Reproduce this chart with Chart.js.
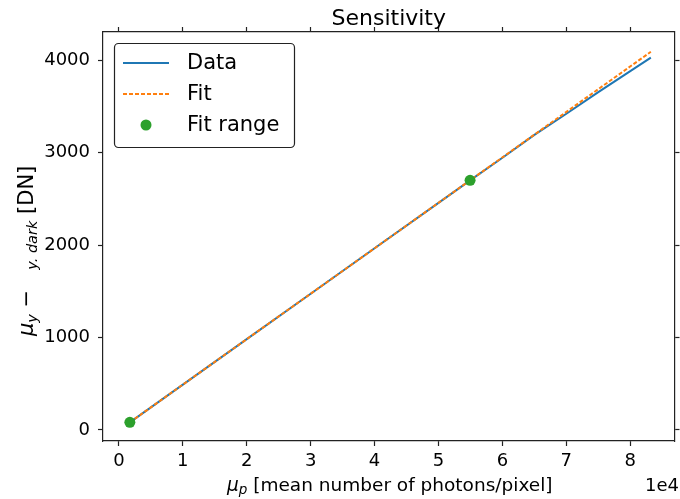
<!DOCTYPE html>
<html>
<head>
<meta charset="utf-8">
<script src="https://cdn.jsdelivr.net/npm/chart.js@4.4.1/dist/chart.umd.min.js"></script>
<style>
  body { margin: 0; background: #fff; }
  canvas { display: block; }
</style>
</head>
<body>
<canvas id="myChart" width="680" height="499"></canvas>
<script>
// photons/pixel vs. dark-corrected signal [DN]
const dataX = [1710, 10000, 20000, 30000, 40000, 50000, 54940, 60000, 65000, 70000, 75000, 80000, 83220]
const dataY = [83, 490, 982, 1473, 1965, 2456, 2699, 2943, 3190, 3419, 3653, 3880, 4025]
const fitX = [1710, 83220]
const fitY = [83, 4089]
const rangeX = [1710, 54940]
const rangeY = [83, 2699]
const xTicks = [0, 10000, 20000, 30000, 40000, 50000, 60000, 70000, 80000]
const yTicks = [0, 1000, 2000, 3000, 4000]

const FONT = 'DejaVu Sans'
const toPoints = (xs, ys) => xs.map((x, i) => ({ x: x, y: ys[i] }))

// title, axis labels, offset text and legend drawn by hand (matplotlib look)
const decorations = {
  id: 'decorations',
  afterDraw (chart) {
    const ctx = chart.ctx
    const area = chart.chartArea
    ctx.save()
    ctx.fillStyle = '#000'
    ctx.textBaseline = 'alphabetic'

    ctx.font = `22px "${FONT}"`
    ctx.textAlign = 'center'
    ctx.fillText('Sensitivity', (area.left + area.right) / 2, 25)

    // x label
    ctx.textAlign = 'left'
    let x = 227
    const xParts = [
      { t: 'μ', f: `italic 18.5px "${FONT}"`, dy: 0 },
      { t: 'p', f: `italic 13.5px "${FONT}"`, dy: 3 },
      { t: ' [mean number of photons/pixel]', f: `18.5px "${FONT}"`, dy: 0 }
    ]
    xParts.forEach(p => {
      ctx.font = p.f
      ctx.fillText(p.t, x, 491 + p.dy)
      x += ctx.measureText(p.t).width
    })

    ctx.font = `18px "${FONT}"`
    ctx.textAlign = 'right'
    ctx.fillText('1e4', 679, 491)

    // y label, rotated
    ctx.save()
    ctx.translate(33, 336)
    ctx.rotate(-Math.PI / 2)
    ctx.textAlign = 'left'
    let y = 0
    const yParts = [
      { t: 'μ', f: `italic 21px "${FONT}"`, dy: 0 },
      { t: 'y', f: `italic 14.5px "${FONT}"`, dy: 4 },
      { t: ' − ', f: `21px "${FONT}"`, dy: 0 },
      { t: '  ', f: `21px "${FONT}"`, dy: 0 },
      { t: 'y. dark', f: `italic 14.5px "${FONT}"`, dy: 4 },
      { t: ' [DN]', f: `21px "${FONT}"`, dy: 0 }
    ]
    yParts.forEach(p => {
      ctx.font = p.f
      ctx.fillText(p.t, y, p.dy)
      y += ctx.measureText(p.t).width
    })
    ctx.restore()

    // legend
    const lx = 114.5
    const ly = 43.5
    ctx.beginPath()
    ctx.roundRect(lx, ly, 180, 104, 4)
    ctx.fillStyle = 'rgba(255,255,255,0.8)'
    ctx.fill()
    ctx.strokeStyle = '#222'
    ctx.lineWidth = 1.2
    ctx.stroke()
    const rows = [63, 94, 125]
    chart.data.datasets.forEach((ds, i) => {
      const ry = rows[i]
      if (ds.showLine !== false) {
        ctx.beginPath()
        ctx.setLineDash(ds.borderDash || [])
        ctx.strokeStyle = ds.borderColor
        ctx.lineWidth = ds.borderWidth
        ctx.moveTo(123, ry)
        ctx.lineTo(169, ry)
        ctx.stroke()
        ctx.setLineDash([])
      } else {
        ctx.beginPath()
        ctx.fillStyle = ds.backgroundColor
        ctx.arc(146, ry, ds.pointRadius, 0, Math.PI * 2)
        ctx.fill()
      }
      ctx.fillStyle = '#000'
      ctx.font = `21px "${FONT}"`
      ctx.textAlign = 'left'
      ctx.textBaseline = 'middle'
      ctx.fillText(ds.label, 187, ry + 1)
    })
    ctx.restore()
  }
}

const axisBorder = { display: true, color: '#222', width: 1.2 }
const tickGrid = { drawOnChartArea: false, drawTicks: true, tickLength: 5, tickColor: '#222', tickWidth: 1.2 }

const ctx = document.getElementById('myChart')
const myChart = new Chart(ctx, {
  type: 'scatter',
  data: {
    datasets: [{
      label: 'Data',
      data: toPoints(dataX, dataY),
      showLine: true,
      borderColor: '#1f77b4',
      backgroundColor: '#1f77b4',
      borderWidth: 2,
      pointRadius: 0,
      order: 3
    }, {
      label: 'Fit',
      data: toPoints(fitX, fitY),
      showLine: true,
      borderColor: '#ff7f0e',
      backgroundColor: '#ff7f0e',
      borderWidth: 2,
      borderDash: [4, 2],
      pointRadius: 0,
      order: 2
    }, {
      label: 'Fit range',
      data: toPoints(rangeX, rangeY),
      showLine: false,
      borderColor: '#2ca02c',
      backgroundColor: '#2ca02c',
      pointRadius: 5.5,
      pointBorderWidth: 0,
      order: 1
    }]
  },
  options: {
    responsive: false,
    animation: false,
    layout: { padding: 0 },
    plugins: {
      legend: { display: false },
      tooltip: { enabled: false }
    },
    scales: {
      x: {
        type: 'linear',
        position: 'bottom',
        min: -2490,
        max: 86920,
        afterBuildTicks: s => { s.ticks = xTicks.map(v => ({ value: v })) },
        afterFit: s => { s.height = 58 },
        ticks: {
          color: '#000',
          font: { family: FONT, size: 18 },
          padding: 5,
          maxRotation: 0,
          callback: v => String(v / 10000)
        },
        grid: tickGrid,
        border: axisBorder
      },
      x2: {
        type: 'linear',
        position: 'top',
        min: -2490,
        max: 86920,
        afterBuildTicks: s => { s.ticks = xTicks.map(v => ({ value: v })) },
        afterFit: s => { s.height = 32 },
        ticks: { display: false },
        grid: tickGrid,
        border: axisBorder
      },
      y: {
        type: 'linear',
        position: 'left',
        min: -119,
        max: 4303,
        afterBuildTicks: s => { s.ticks = yTicks.map(v => ({ value: v })) },
        afterFit: s => { s.width = 103 },
        ticks: {
          color: '#000',
          font: { family: FONT, size: 18 },
          padding: 8,
          callback: v => String(v)
        },
        grid: tickGrid,
        border: axisBorder
      },
      y2: {
        type: 'linear',
        position: 'right',
        min: -119,
        max: 4303,
        afterBuildTicks: s => { s.ticks = yTicks.map(v => ({ value: v })) },
        afterFit: s => { s.width = 3 },
        ticks: { display: false },
        grid: tickGrid,
        border: axisBorder
      }
    }
  },
  plugins: [decorations]
})
</script>
</body>
</html>
